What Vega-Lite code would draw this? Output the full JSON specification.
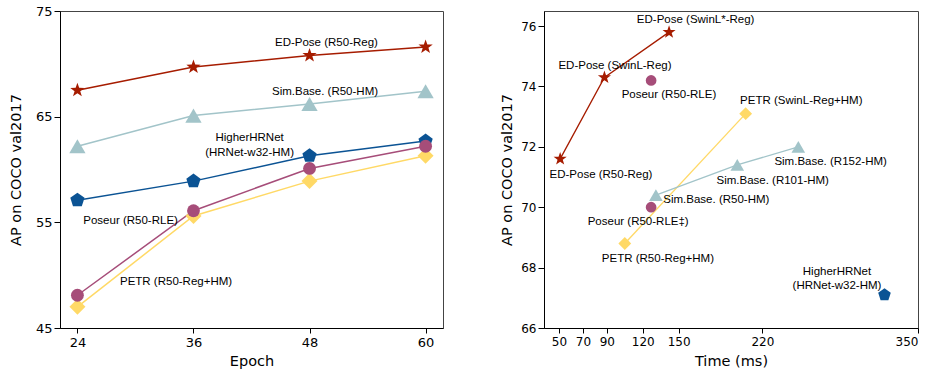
{
  "$schema": "https://vega.github.io/schema/vega-lite/v6.json",
  "padding": {"left": 7, "top": 4, "right": 5, "bottom": 5},
  "background": "white",
  "bounds": "flush",
  "spacing": 101,
  "resolve": {"scale": {"x": "independent", "y": "independent", "size": "independent"}},
  "config": {
    "view": {"stroke": "#444", "strokeWidth": 1},
    "axis": {
      "grid": false, "domainColor": "#000", "tickColor": "#000", "labelColor": "#000", "titleColor": "#000",
      "labelFont": "DejaVu Sans", "titleFont": "DejaVu Sans", "titleFontWeight": "normal", "titleFontSize": 14.5,
      "domainWidth": 1, "tickWidth": 1
    },
    "text": {"font": "Liberation Sans", "fontSize": 11.5, "color": "#000"}
  },
  "datasets": {
    "left": [
      {"series": "HigherHRNet", "epoch": 24, "ap": 57.1},
      {"series": "HigherHRNet", "epoch": 36, "ap": 58.9},
      {"series": "HigherHRNet", "epoch": 48, "ap": 61.3},
      {"series": "HigherHRNet", "epoch": 60, "ap": 62.7},
      {"series": "PETR", "epoch": 24, "ap": 47.0},
      {"series": "PETR", "epoch": 36, "ap": 55.6},
      {"series": "PETR", "epoch": 48, "ap": 58.9},
      {"series": "PETR", "epoch": 60, "ap": 61.3},
      {"series": "Poseur", "epoch": 24, "ap": 48.1},
      {"series": "Poseur", "epoch": 36, "ap": 56.1},
      {"series": "Poseur", "epoch": 48, "ap": 60.1},
      {"series": "Poseur", "epoch": 60, "ap": 62.2},
      {"series": "Sim.Base.", "epoch": 24, "ap": 62.2},
      {"series": "Sim.Base.", "epoch": 36, "ap": 65.1},
      {"series": "Sim.Base.", "epoch": 48, "ap": 66.2},
      {"series": "Sim.Base.", "epoch": 60, "ap": 67.4},
      {"series": "ED-Pose", "epoch": 24, "ap": 67.5},
      {"series": "ED-Pose", "epoch": 36, "ap": 69.7},
      {"series": "ED-Pose", "epoch": 48, "ap": 70.8},
      {"series": "ED-Pose", "epoch": 60, "ap": 71.6}
    ],
    "leftLabels": [
      {"label": "ED-Pose (R50-Reg)", "epoch": 49.75, "ap": 72.0},
      {"label": "Sim.Base. (R50-HM)", "epoch": 49.6, "ap": 67.3},
      {"label": "HigherHRNet", "epoch": 41.8, "ap": 63.0},
      {"label": "(HRNet-w32-HM)", "epoch": 41.8, "ap": 61.6},
      {"label": "Poseur (R50-RLE)", "epoch": 29.5, "ap": 55.1},
      {"label": "PETR (R50-Reg+HM)", "epoch": 34.2, "ap": 49.4}
    ],
    "right": [
      {"series": "HigherHRNet", "time": 322, "ap": 67.1},
      {"series": "PETR", "time": 105, "ap": 68.8},
      {"series": "PETR", "time": 206, "ap": 73.1},
      {"series": "Sim.Base.", "time": 131, "ap": 70.4},
      {"series": "Sim.Base.", "time": 199, "ap": 71.4},
      {"series": "Sim.Base.", "time": 250, "ap": 72.0},
      {"series": "Poseur", "time": 127, "ap": 74.2},
      {"series": "Poseur", "time": 127, "ap": 70.0},
      {"series": "ED-Pose", "time": 51, "ap": 71.6},
      {"series": "ED-Pose", "time": 88, "ap": 74.3},
      {"series": "ED-Pose", "time": 142, "ap": 75.8}
    ],
    "rightLabels": [
      {"label": "ED-Pose (SwinL*-Reg)", "time": 164.2, "ap": 76.21},
      {"label": "ED-Pose (SwinL-Reg)", "time": 96.8, "ap": 74.68},
      {"label": "Poseur (R50-RLE)", "time": 141.9, "ap": 73.72},
      {"label": "PETR (SwinL-Reg+HM)", "time": 252.5, "ap": 73.51},
      {"label": "Sim.Base. (R152-HM)", "time": 277, "ap": 71.49},
      {"label": "ED-Pose (R50-Reg)", "time": 85.1, "ap": 71.08},
      {"label": "Sim.Base. (R101-HM)", "time": 228.6, "ap": 70.86},
      {"label": "Sim.Base. (R50-HM)", "time": 181.5, "ap": 70.24},
      {"label": "Poseur (R50-RLE‡)", "time": 116.2, "ap": 69.52},
      {"label": "PETR (R50-Reg+HM)", "time": 132.7, "ap": 68.28},
      {"label": "HigherHRNet", "time": 282.3, "ap": 67.86},
      {"label": "(HRNet-w32-HM)", "time": 282.3, "ap": 67.38}
    ]
  },
  "hconcat": [
    {
      "width": 383,
      "height": 317,
      "encoding": {
        "x": {"field": "epoch", "type": "quantitative",
          "scale": {"domain": [22.2, 61.8], "nice": false, "zero": false},
          "axis": {"values": [24, 36, 48, 60], "title": "Epoch", "labelFontSize": 13, "tickSize": 5, "labelPadding": 3,
            "titleX": 191.5, "titleY": 33, "titleBaseline": "middle"}},
        "y": {"field": "ap", "type": "quantitative",
          "scale": {"domain": [45, 75], "nice": false, "zero": false},
          "axis": {"values": [45, 55, 65, 75], "title": "AP on COCO val2017", "labelFontSize": 13, "tickSize": 6, "labelPadding": 2,
            "titleX": -44, "titleY": 158.5, "titleBaseline": "middle"}}
      },
      "layer": [
        {
          "data": {"name": "left"},
          "mark": {"type": "line", "strokeWidth": 1.5},
          "encoding": {
            "color": {"field": "series", "type": "nominal",
              "scale": {"domain": ["ED-Pose", "Sim.Base.", "HigherHRNet", "Poseur", "PETR"],
                "range": ["#a61c00", "#a2c4c9", "#0b5394", "#a64d79", "#ffd966"]}, "legend": null}
          }
        },
        {
          "data": {"name": "left"},
          "mark": {"type": "point", "filled": true, "opacity": 1},
          "encoding": {
            "color": {"field": "series", "type": "nominal",
              "scale": {"domain": ["ED-Pose", "Sim.Base.", "HigherHRNet", "Poseur", "PETR"],
                "range": ["#a61c00", "#a2c4c9", "#0b5394", "#a64d79", "#ffd966"]}, "legend": null},
            "shape": {"field": "series", "type": "nominal",
              "scale": {"domain": ["ED-Pose", "Sim.Base.", "HigherHRNet", "Poseur", "PETR"],
                "range": ["M0,-1L0.235,-0.324L0.951,-0.309L0.38,0.124L0.588,0.809L0,0.4L-0.588,0.809L-0.38,0.124L-0.951,-0.309L-0.235,-0.324Z", "triangle-up", "M0,-1L0.951,-0.309L0.588,0.809L-0.588,0.809L-0.951,-0.309Z", "circle", "M0,-1L1,0L0,1L-1,0Z"]}, "legend": null},
            "size": {"field": "series", "type": "nominal",
              "scale": {"type": "ordinal", "domain": ["ED-Pose", "Sim.Base.", "HigherHRNet", "Poseur", "PETR"],
                "range": [225, 265, 225, 165, 256]}, "legend": null}
          }
        },
        {
          "data": {"name": "leftLabels"},
          "mark": {"type": "text", "align": "center", "baseline": "middle"},
          "encoding": {"text": {"field": "label"}}
        }
      ]
    },
    {
      "width": 374,
      "height": 317,
      "encoding": {
        "x": {"field": "time", "type": "quantitative",
          "scale": {"domain": [37.5, 350], "nice": false, "zero": false},
          "axis": {"values": [50, 70, 90, 120, 150, 220, 350], "title": "Time (ms)", "labelFontSize": 12, "tickSize": 5, "labelPadding": 3,
            "titleX": 187, "titleY": 33, "titleBaseline": "middle"}},
        "y": {"field": "ap", "type": "quantitative",
          "scale": {"domain": [66, 76.5], "nice": false, "zero": false},
          "axis": {"values": [66, 68, 70, 72, 74, 76], "title": "AP on COCO val2017", "labelFontSize": 12, "tickSize": 6, "labelPadding": 2,
            "titleX": -36.3, "titleY": 158.5, "titleBaseline": "middle"}}
      },
      "layer": [
        {
          "data": {"name": "right"},
          "transform": [{"filter": {"field": "series", "oneOf": ["ED-Pose", "PETR", "Sim.Base."]}}],
          "mark": {"type": "line", "strokeWidth": 1.3},
          "encoding": {
            "color": {"field": "series", "type": "nominal",
              "scale": {"domain": ["ED-Pose", "Sim.Base.", "HigherHRNet", "Poseur", "PETR"],
                "range": ["#a61c00", "#a2c4c9", "#0b5394", "#a64d79", "#ffd966"]}, "legend": null}
          }
        },
        {
          "data": {"name": "right"},
          "mark": {"type": "point", "filled": true, "opacity": 1},
          "encoding": {
            "color": {"field": "series", "type": "nominal",
              "scale": {"domain": ["ED-Pose", "Sim.Base.", "HigherHRNet", "Poseur", "PETR"],
                "range": ["#a61c00", "#a2c4c9", "#0b5394", "#a64d79", "#ffd966"]}, "legend": null},
            "shape": {"field": "series", "type": "nominal",
              "scale": {"domain": ["ED-Pose", "Sim.Base.", "HigherHRNet", "Poseur", "PETR"],
                "range": ["M0,-1L0.235,-0.324L0.951,-0.309L0.38,0.124L0.588,0.809L0,0.4L-0.588,0.809L-0.38,0.124L-0.951,-0.309L-0.235,-0.324Z", "triangle-up", "M0,-1L0.951,-0.309L0.588,0.809L-0.588,0.809L-0.951,-0.309Z", "circle", "M0,-1L1,0L0,1L-1,0Z"]}, "legend": null},
            "size": {"field": "series", "type": "nominal",
              "scale": {"type": "ordinal", "domain": ["ED-Pose", "Sim.Base.", "HigherHRNet", "Poseur", "PETR"],
                "range": [190, 185, 175, 115, 165]}, "legend": null}
          }
        },
        {
          "data": {"name": "rightLabels"},
          "mark": {"type": "text", "align": "center", "baseline": "middle"},
          "encoding": {"text": {"field": "label"}}
        }
      ]
    }
  ]
}
